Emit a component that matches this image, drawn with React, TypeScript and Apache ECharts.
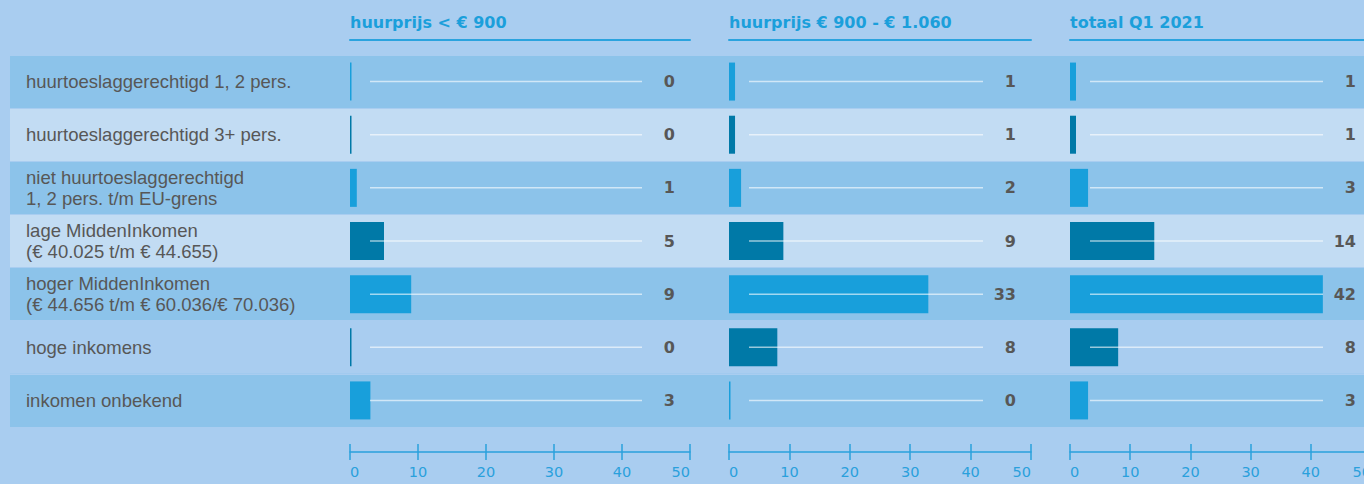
import React, { useEffect, useRef } from 'react';
import * as echarts from 'echarts';

const categories = [
  'huurtoeslaggerechtigd 1, 2 pers.',
  'huurtoeslaggerechtigd 3+ pers.',
  'niet huurtoeslaggerechtigd\n1, 2 pers. t/m EU-grens',
  'lage MiddenInkomen\n(€ 40.025 t/m € 44.655)',
  'hoger MiddenInkomen\n(€ 44.656 t/m € 60.036/€ 70.036)',
  'hoge inkomens',
  'inkomen onbekend',
];
const panelTitles = ['huurprijs < € 900', 'huurprijs € 900 - € 1.060', 'totaal Q1 2021'];
const below900 = [0, 0, 1, 5, 9, 0, 3];
const from900to1060 = [1, 1, 2, 9, 33, 8, 0];
const totalQ1 = [1, 1, 3, 14, 42, 8, 3];
const panelValues = [below900, from900to1060, totalQ1];
const axisMin = 0;
const axisMax = 50;
const axisInterval = 10;

const BG = '#a9cdf0';
const BAND_DARK = '#8cc3ea';
const BAND_LIGHT = '#c2dcf3';
const BAR_BRIGHT = '#189fdb';
const BAR_DARK = '#0079a7';
const BLUE = '#1b9fdb';
const AXIS_BLUE = '#2aa0dc';
const GREY = '#575757';

const panels: any[] = [
  { left: 350, width: 340 },
  { left: 729, width: 302 },
  { left: 1070, width: 301 },
];
const TOP = 55;
const HEIGHT = 372;

export default function App() {
  const ref = useRef<HTMLDivElement>(null);
  useEffect(() => {
    if (!ref.current) return;
    const chart = echarts.init(ref.current, undefined, { renderer: 'svg' });

    const grid: any[] = panels.map((p) => ({ ...p, top: TOP, height: HEIGHT, containLabel: false, outerBoundsMode: 'none' }));
    grid.push({ left: 10, right: 0, top: TOP, height: HEIGHT, containLabel: false, outerBoundsMode: 'none' });

    const xAxis: any[] = [];
    panels.forEach((_, i) => {
      xAxis.push({
        type: 'value', gridIndex: i, position: 'bottom', offset: 25,
        min: axisMin, max: axisMax, interval: axisInterval,
        axisLine: { show: true, lineStyle: { color: AXIS_BLUE, width: 1.5 } },
        axisTick: { show: true, inside: false, length: 8, lineStyle: { color: AXIS_BLUE, width: 1.5 } },
        axisLabel: {
          show: true, color: AXIS_BLUE, fontSize: 14.5, fontFamily: 'DejaVu Sans', margin: 12,
          alignMinLabel: 'left', alignMaxLabel: 'right', hideOverlap: false,
        },
        splitLine: { show: false },
      });
    });
    panels.forEach((_, i) => {
      xAxis.push({
        type: 'value', gridIndex: i, position: 'bottom', offset: 25,
        min: axisMin, max: axisMax, interval: axisInterval,
        axisLine: { show: false },
        axisTick: { show: true, inside: true, length: 8, lineStyle: { color: AXIS_BLUE, width: 1.5 } },
        axisLabel: { show: false },
        splitLine: { show: false },
      });
    });
    panels.forEach((_, i) => {
      xAxis.push({
        type: 'value', gridIndex: i, position: 'top', offset: 15,
        min: axisMin, max: axisMax, interval: axisInterval,
        axisLine: { show: true, lineStyle: { color: '#2aa3de', width: 2 } },
        axisTick: { show: false },
        axisLabel: { show: false },
        splitLine: { show: false },
      });
    });
    xAxis.push({ type: 'value', gridIndex: 3, show: false, min: 0, max: 1 });

    const yAxis: any[] = panels.map((_, i) => ({
      type: 'category', gridIndex: i, data: categories, inverse: true, show: false,
    }));
    yAxis.push({
      type: 'category', gridIndex: 3, data: categories, inverse: true,
      axisLine: { show: false }, axisTick: { show: false },
      axisLabel: {
        inside: true, margin: 16, align: 'left', color: GREY, fontSize: 18.5,
        fontFamily: 'Liberation Sans', lineHeight: 21,
      },
      splitLine: { show: true, lineStyle: { color: BG, width: 1 } },
      splitArea: {
        show: true,
        areaStyle: { color: [BAND_DARK, BAND_LIGHT, BAND_DARK, BAND_LIGHT, BAND_DARK, BG, BAND_DARK] },
      },
    });

    const series: any[] = [];
    panelValues.forEach((vals, i) => {
      series.push({
        type: 'bar', xAxisIndex: i, yAxisIndex: i, data: vals, barWidth: 38, barMinHeight: 1.5,
        itemStyle: { color: (p: any) => (p.dataIndex % 2 === 0 ? BAR_BRIGHT : BAR_DARK) },
        z: 2,
      });
      series.push({
        type: 'custom', xAxisIndex: i, yAxisIndex: i, z: 3,
        data: vals.map((v, k) => [v, k]),
        encode: { x: 0, y: 1 },
        renderItem: (params: any, api: any) => {
          const cs = params.coordSys;
          const val = api.value(0);
          const idx = api.value(1);
          const y = api.coord([0, idx])[1];
          return {
            type: 'group',
            children: [
              {
                type: 'line',
                shape: { x1: cs.x + 20, y1: y, x2: cs.x + cs.width - 48, y2: y },
                style: { stroke: 'rgba(255,255,255,0.6)', lineWidth: 1.5 },
              },
              {
                type: 'text',
                style: {
                  text: String(val), x: cs.x + cs.width - 15, y,
                  align: 'right', verticalAlign: 'middle', fill: GREY,
                  font: 'bold 16px "DejaVu Sans"',
                },
              },
            ],
          };
        },
      });
    });

    const title = panelTitles.map((t, i) => ({
      text: t, left: panels[i].left, top: 14, padding: 0,
      textStyle: { color: BLUE, fontSize: 16, fontWeight: 'bold', fontFamily: 'DejaVu Sans' },
    }));

    chart.setOption({
      animation: false,
      backgroundColor: BG,
      title,
      grid,
      xAxis,
      yAxis,
      series,
    });
    return () => chart.dispose();
  }, []);
  return (
    <div
      ref={ref}
      style={{ position: 'fixed', left: 0, top: 0, width: 1364, height: 484 }}
    />
  );
}
